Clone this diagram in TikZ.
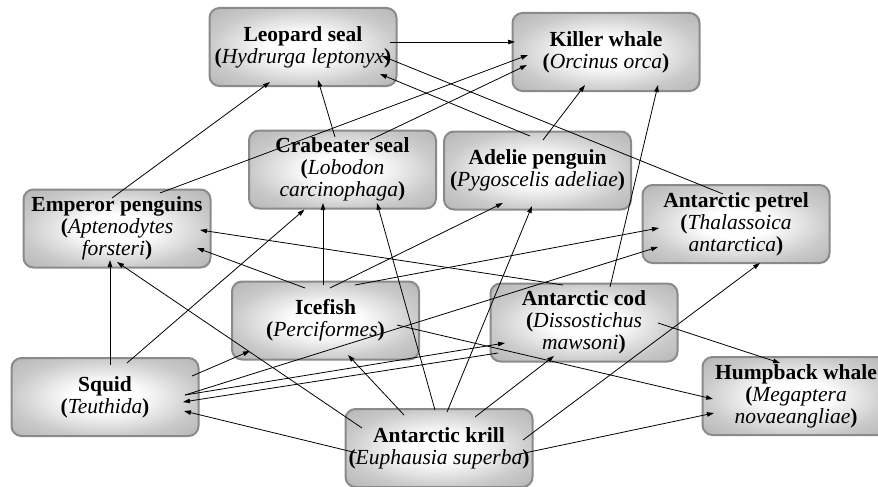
\documentclass[tikz,border=0pt]{standalone}
\usepackage{fontspec}
\setmainfont{Liberation Serif}
\usetikzlibrary{arrows.meta,calc}
\definecolor{boxedge}{RGB}{138,138,138}
\pgfdeclareradialshading{boxshade}{\pgfpoint{0bp}{0bp}}{color(0bp)=(white); color(9bp)=(white); color(25bp)=(gray!42); color(36bp)=(gray!58); color(50bp)=(gray!60)}
\tikzset{
  species/.style={draw=boxedge, line width=2pt, rounded corners=10pt,
    minimum width=187pt, minimum height=78pt, inner sep=2pt, align=center,
    shading=boxshade,
    font=\fontsize{21.5}{22}\selectfont},
  link/.style={line width=0.8pt, -{Triangle[length=7pt,width=4.5pt]}}
}
\begin{document}
\begin{tikzpicture}[x=1pt,y=-1pt]
\useasboundingbox (0,0) rectangle (878,487);
\clip (0,0) rectangle (878,487);
% nodes
\node[species] (leo) at (303,47) {\textbf{Leopard seal}\\\textbf{(}\textit{Hydrurga leptonyx}\textbf{)}};
\node[species] (killer) at (606,52) {\textbf{Killer whale}\\\textbf{(}\textit{Orcinus orca}\textbf{)}};
\node[species] (crab) at (342.5,169.5) {\textbf{Crabeater seal}\\\textbf{(}\textit{Lobodon}\\\textit{carcinophaga}\textbf{)}};
\node[species] (adelie) at (537.5,170.5) {\textbf{Adelie penguin}\\\textbf{(}\textit{Pygoscelis adeliae}\textbf{)}};
\node[species] (emp) at (117,228.5) {\textbf{Emperor penguins}\\\textbf{(}\textit{Aptenodytes}\\\textit{forsteri}\textbf{)}};
\node[species] (petrel) at (736,224) {\textbf{Antarctic petrel}\\\textbf{(}\textit{Thalassoica}\\\textit{antarctica}\textbf{)}};
\node[species] (ice) at (325.5,320.5) {\textbf{Icefish}\\\textbf{(}\textit{Perciformes}\textbf{)}};
\node[species] (cod) at (584,322.5) {\textbf{Antarctic cod}\\\textbf{(}\textit{Dissostichus}\\\textit{mawsoni}\textbf{)}};
\node[species] (squid) at (105,397) {\textbf{Squid}\\\textbf{(}\textit{Teuthida}\textbf{)}};
\node[species] (hump) at (796,396) {\textbf{Humpback whale}\\\textbf{(}\textit{Megaptera}\\\textit{novaeangliae}\textbf{)}};
\node[species] (krill) at (439,448) {\textbf{Antarctic krill}\\\textbf{(}\textit{Euphausia superba}\textbf{)}};
% connectors
\draw[link] ($(leo)+(87,-5)$) -- ($(killer)+(-91,-10)$);
\draw[link] ($(emp)+(-5,-30.5)$) -- ($(leo)+(-33,35)$);
\draw[link] ($(crab)+(-7.5,-32.5)$) -- ($(leo)+(15,33)$);
\draw[link] ($(adelie)+(-7.5,-34.5)$) -- ($(leo)+(77,27)$);
\draw[link] ($(petrel)+(-13,-30)$) -- ($(leo)+(79,9)$);
\draw[link] ($(emp)+(43,-35.5)$) -- ($(killer)+(-78,3)$);
\draw[link] ($(crab)+(27.5,-29.5)$) -- ($(killer)+(-79,13)$);
\draw[link] ($(adelie)+(5.5,-30.5)$) -- ($(killer)+(-21,33)$);
\draw[link] ($(cod)+(26,-35.5)$) -- ($(killer)+(52,33)$);
\draw[link] ($(cod)+(-21,-37.5)$) -- ($(emp)+(83,1.5)$);
\draw[link] ($(ice)+(-20.5,-32.5)$) -- ($(emp)+(80,19.5)$);
\draw[link] ($(squid)+(5,-32)$) -- ($(emp)+(-7,31.5)$);
\draw[link] ($(krill)+(-77,-20)$) -- ($(emp)+(0,33.5)$);
\draw[link] ($(squid)+(22,-34)$) -- ($(crab)+(-38,40)$);
\draw[link] ($(ice)+(-2.5,-35.5)$) -- ($(crab)+(-19.5,33.5)$);
\draw[link] ($(krill)+(-4,-38)$) -- ($(crab)+(34.5,33.5)$);
\draw[link] ($(ice)+(4.5,-32.5)$) -- ($(adelie)+(-34.5,32.5)$);
\draw[link] ($(krill)+(8,-36)$) -- ($(adelie)+(-5.5,35.5)$);
\draw[link] ($(ice)+(29.5,-35.5)$) -- ($(petrel)+(-77,4)$);
\draw[link] ($(squid)+(80,-2)$) -- ($(petrel)+(-78,23)$);
\draw[link] ($(krill)+(84,-8)$) -- ($(petrel)+(24,39)$);
\draw[link] ($(squid)+(80,-2)$) -- ($(cod)+(-79,20.5)$);
\draw[link] ($(krill)+(36,-31)$) -- ($(cod)+(-30,33.5)$);
\draw[link] ($(ice)+(71.5,4.5)$) -- ($(hump)+(-83,3)$);
\draw[link] ($(krill)+(76,7)$) -- ($(hump)+(-82,17)$);
\draw[link] ($(cod)+(74,0.5)$) -- ($(hump)+(-16,-33)$);
\draw[link] ($(squid)+(87,-21)$) -- ($(ice)+(-75.5,30.5)$);
\draw[link] ($(krill)+(-35,-33)$) -- ($(ice)+(22.5,34.5)$);
\draw[link] ($(cod)+(-86,30.5)$) -- ($(squid)+(78,5)$);
\draw[link] ($(krill)+(-82,5)$) -- ($(squid)+(79,14)$);
\end{tikzpicture}
\end{document}
